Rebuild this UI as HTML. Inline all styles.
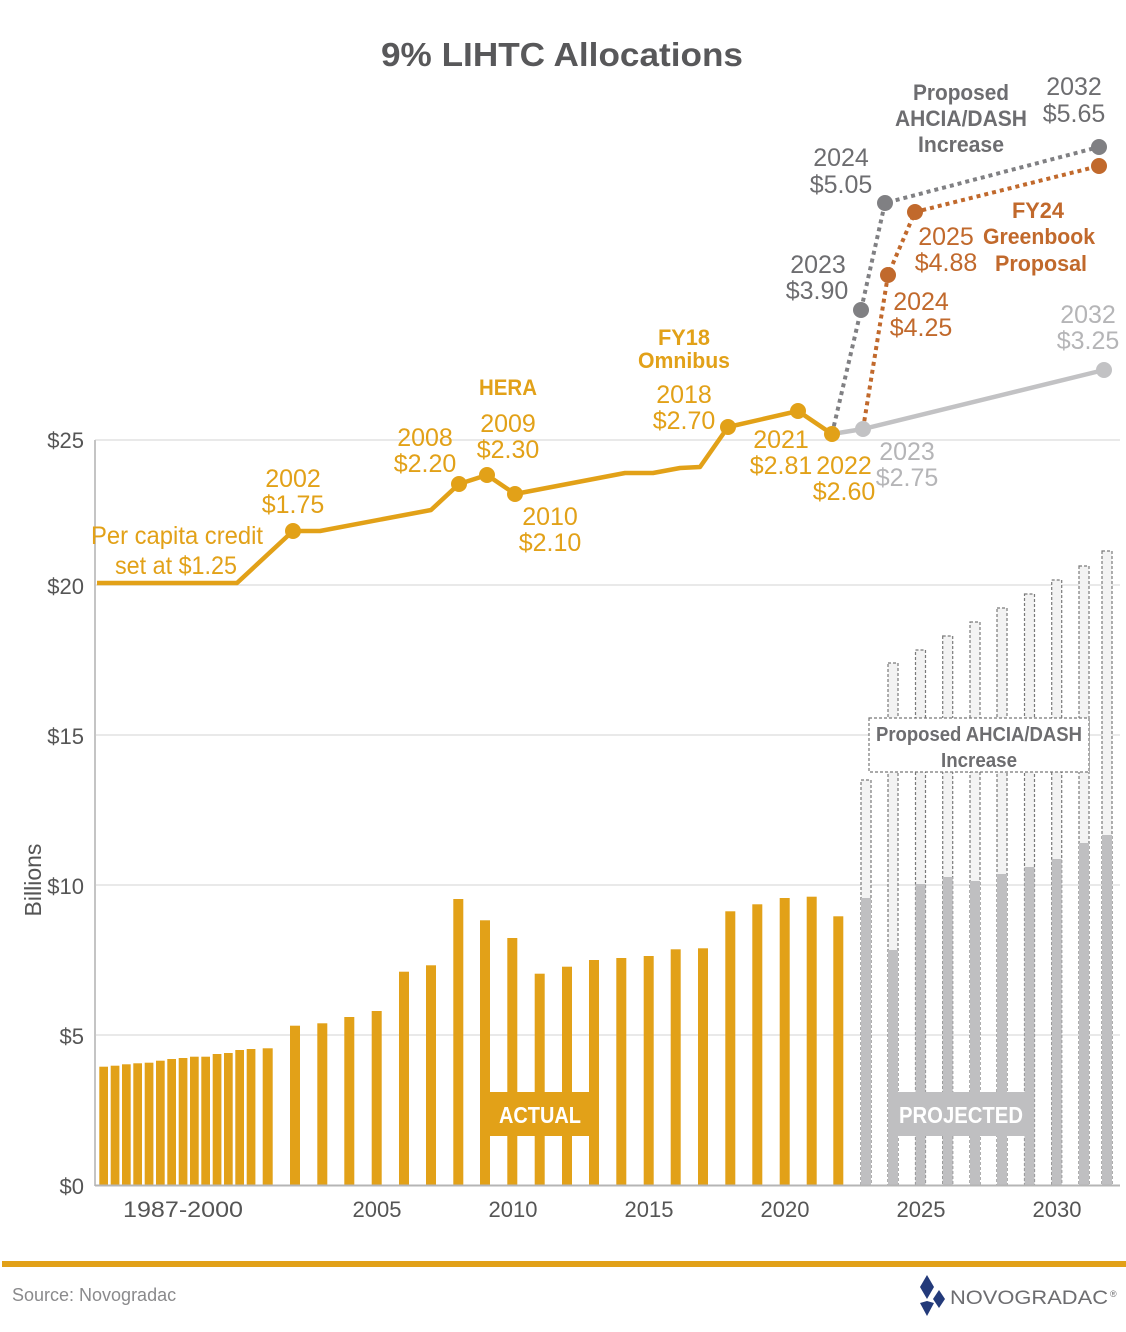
<!DOCTYPE html>
<html><head><meta charset="utf-8"><style>
body{margin:0;background:#fff}
svg{display:block;font-family:"Liberation Sans",sans-serif}
</style></head><body>
<svg width="1126" height="1332" viewBox="0 0 1126 1332" xmlns="http://www.w3.org/2000/svg">
<text x="562" y="66" text-anchor="middle" font-weight="bold" font-size="33" fill="#58585a" textLength="362" lengthAdjust="spacingAndGlyphs">9% LIHTC Allocations</text>
<g stroke="#e2e2e2" stroke-width="1.5">
<line x1="95" y1="440" x2="1120" y2="440"/><line x1="95" y1="585" x2="1120" y2="585"/>
<line x1="95" y1="735" x2="1120" y2="735"/><line x1="95" y1="885" x2="1120" y2="885"/>
<line x1="95" y1="1035" x2="1120" y2="1035"/></g>
<line x1="95" y1="440" x2="95" y2="1186" stroke="#c4c4c4" stroke-width="2"/>
<g font-size="22" fill="#555" text-anchor="end">
<text x="84" y="448">$25</text><text x="84" y="594">$20</text><text x="84" y="744">$15</text>
<text x="84" y="894">$10</text><text x="84" y="1044">$5</text><text x="84" y="1194">$0</text></g>
<text transform="translate(41,880) rotate(-90)" text-anchor="middle" font-size="23" fill="#555">Billions</text>
<g fill="#e2a118">
<rect x="99.3" y="1066.7" width="8.7" height="118.3"/><rect x="110.7" y="1065.7" width="8.7" height="119.3"/>
<rect x="122" y="1064.3" width="8.7" height="120.7"/><rect x="133.3" y="1063.3" width="8.7" height="121.7"/>
<rect x="144.7" y="1062.7" width="8.7" height="122.3"/><rect x="156" y="1060.7" width="8.7" height="124.3"/>
<rect x="167.3" y="1059" width="8.7" height="126"/><rect x="178.7" y="1058" width="8.7" height="127"/>
<rect x="190" y="1056.7" width="8.7" height="128.3"/><rect x="201.3" y="1056.7" width="8.7" height="128.3"/>
<rect x="212.7" y="1054" width="8.7" height="131"/><rect x="224" y="1053" width="8.7" height="132"/>
<rect x="235.3" y="1050" width="8.7" height="135"/><rect x="246.7" y="1049" width="8.7" height="136"/>
<rect x="262.7" y="1048.3" width="10" height="136.7"/><rect x="290" y="1025.7" width="10" height="159.3"/>
<rect x="317.3" y="1023.3" width="10" height="161.7"/><rect x="344.3" y="1017" width="10" height="168"/>
<rect x="371.7" y="1011" width="10" height="174"/><rect x="399" y="971.7" width="10" height="213.3"/>
<rect x="426" y="965.3" width="10" height="219.7"/><rect x="453.3" y="899" width="10" height="286"/>
<rect x="480" y="920.3" width="10" height="264.7"/><rect x="507.3" y="938" width="10" height="247"/>
<rect x="534.7" y="973.7" width="10" height="211.3"/><rect x="562" y="966.7" width="10" height="218.3"/>
<rect x="589" y="960" width="10" height="225"/><rect x="616.3" y="958" width="10" height="227"/>
<rect x="643.7" y="956" width="10" height="229"/><rect x="670.7" y="949.3" width="10" height="235.7"/>
<rect x="698" y="948.3" width="10" height="236.7"/><rect x="725.3" y="911.3" width="10" height="273.7"/>
<rect x="752.3" y="904.3" width="10" height="280.7"/><rect x="779.7" y="898" width="10" height="287"/>
<rect x="806.7" y="896.7" width="10" height="288.3"/><rect x="833.3" y="916.3" width="10" height="268.7"/>
</g>
<g fill="#f3f3f3" stroke="#7a7a7a" stroke-width="1.2" stroke-dasharray="3,2">
<rect x="861" y="780" width="10" height="405"/><rect x="888" y="663" width="10" height="522"/>
<rect x="915.5" y="650" width="10" height="535"/><rect x="942.7" y="636" width="10" height="549"/>
<rect x="970" y="622" width="10" height="563"/><rect x="997" y="608" width="10" height="577"/>
<rect x="1024.5" y="594" width="10" height="591"/><rect x="1051.7" y="580" width="10" height="605"/>
<rect x="1079" y="566" width="10" height="619"/><rect x="1102" y="551" width="10" height="634"/>
</g>
<g fill="#bfbfc1">
<rect x="861" y="898" width="10" height="287"/><rect x="888" y="950" width="10" height="235"/>
<rect x="915.5" y="884" width="10" height="301"/><rect x="942.7" y="877" width="10" height="308"/>
<rect x="970" y="881" width="10" height="304"/><rect x="997" y="874" width="10" height="311"/>
<rect x="1024.5" y="867" width="10" height="318"/><rect x="1051.7" y="859" width="10" height="326"/>
<rect x="1079" y="843" width="10" height="342"/><rect x="1102" y="835" width="10" height="350"/>
</g>
<line x1="95" y1="1185.5" x2="1120" y2="1185.5" stroke="#b5b5b5" stroke-width="2"/>
<rect x="480" y="1092" width="118" height="44" fill="#e2a118"/>
<text x="540" y="1123" text-anchor="middle" font-weight="bold" font-size="23" fill="#fff" textLength="82" lengthAdjust="spacingAndGlyphs">ACTUAL</text>
<rect x="890" y="1092" width="144" height="44" fill="#bfbfc1"/>
<text x="961" y="1123" text-anchor="middle" font-weight="bold" font-size="23" fill="#fff" textLength="124" lengthAdjust="spacingAndGlyphs">PROJECTED</text>
<rect x="869" y="718" width="220" height="54" fill="#fff" stroke="#777" stroke-width="1.2" stroke-dasharray="3,2"/>
<text x="979" y="741" text-anchor="middle" font-weight="bold" font-size="20" fill="#6d6d70" textLength="206" lengthAdjust="spacingAndGlyphs">Proposed AHCIA/DASH</text>
<text x="979" y="767" text-anchor="middle" font-weight="bold" font-size="20" fill="#6d6d70" textLength="76" lengthAdjust="spacingAndGlyphs">Increase</text>
<polyline points="97,583 237,583 293,531 320,531 431,510 459,484 487,475 515,494 625,473 653,473 680,468 700,467 728,427 798,411 832,434" fill="none" stroke="#e2a118" stroke-width="4.5" stroke-linejoin="round"/>
<polyline points="832,434 863,429 1104,370" fill="none" stroke="#c2c2c4" stroke-width="4.5"/>
<polyline points="832,434 861,310 885,203 1099,147" fill="none" stroke="#808083" stroke-width="4" stroke-dasharray="4,4"/>
<polyline points="863,429 888,275 915,212 1099,166" fill="none" stroke="#c1692c" stroke-width="4" stroke-dasharray="4,4"/>
<g fill="#e2a118"><circle cx="293" cy="531" r="8"/><circle cx="459" cy="484" r="8"/><circle cx="487" cy="475" r="8"/><circle cx="515" cy="494" r="8"/><circle cx="728" cy="427" r="8"/><circle cx="798" cy="411" r="8"/><circle cx="832" cy="434" r="8"/></g>
<g fill="#c2c2c4"><circle cx="863" cy="429" r="8"/><circle cx="1104" cy="370" r="8"/></g>
<g fill="#808083"><circle cx="861" cy="310" r="8"/><circle cx="885" cy="203" r="8"/><circle cx="1099" cy="147" r="8"/></g>
<g fill="#c1692c"><circle cx="888" cy="275" r="8"/><circle cx="915" cy="212" r="8"/><circle cx="1099" cy="166" r="8"/></g>
<g font-size="25" fill="#e2a118" text-anchor="middle">
<text x="177" y="544" textLength="172" lengthAdjust="spacingAndGlyphs">Per capita credit</text><text x="176" y="574" textLength="122" lengthAdjust="spacingAndGlyphs">set at $1.25</text>
<text x="293" y="487">2002</text><text x="293" y="513">$1.75</text>
<text x="425" y="446">2008</text><text x="425" y="472">$2.20</text>
<text x="508" y="432">2009</text><text x="508" y="458">$2.30</text>
<text x="550" y="525">2010</text><text x="550" y="551">$2.10</text>
<text x="684" y="403">2018</text><text x="684" y="429">$2.70</text>
<text x="781" y="448">2021</text><text x="781" y="474">$2.81</text>
<text x="844" y="474">2022</text><text x="844" y="500">$2.60</text>
</g>
<g font-size="22" font-weight="bold" fill="#e2a118" text-anchor="middle">
<text x="508" y="395" textLength="58" lengthAdjust="spacingAndGlyphs">HERA</text><text x="684" y="345" textLength="52" lengthAdjust="spacingAndGlyphs">FY18</text><text x="684" y="368" textLength="92" lengthAdjust="spacingAndGlyphs">Omnibus</text></g>
<g font-size="25" fill="#b5b5b7" text-anchor="middle">
<text x="907" y="460">2023</text><text x="907" y="486">$2.75</text>
<text x="1088" y="323">2032</text><text x="1088" y="349">$3.25</text></g>
<g font-size="25" fill="#6d6d70" text-anchor="middle">
<text x="818" y="273">2023</text><text x="817" y="299">$3.90</text>
<text x="841" y="166">2024</text><text x="841" y="193">$5.05</text>
<text x="1074" y="95">2032</text><text x="1074" y="122">$5.65</text></g>
<g font-size="22" font-weight="bold" fill="#6d6d70" text-anchor="middle">
<text x="961" y="100" textLength="96" lengthAdjust="spacingAndGlyphs">Proposed</text><text x="961" y="126" textLength="132" lengthAdjust="spacingAndGlyphs">AHCIA/DASH</text><text x="961" y="152" textLength="86" lengthAdjust="spacingAndGlyphs">Increase</text></g>
<g font-size="25" fill="#c1692c" text-anchor="middle">
<text x="946" y="245">2025</text><text x="946" y="271">$4.88</text>
<text x="921" y="310">2024</text><text x="921" y="336">$4.25</text></g>
<g font-size="22" font-weight="bold" fill="#c1692c" text-anchor="middle">
<text x="1038" y="218" textLength="52" lengthAdjust="spacingAndGlyphs">FY24</text><text x="1039" y="244" textLength="112" lengthAdjust="spacingAndGlyphs">Greenbook</text><text x="1041" y="271" textLength="92" lengthAdjust="spacingAndGlyphs">Proposal</text></g>
<g font-size="22" fill="#555" text-anchor="middle">
<text x="183" y="1217" textLength="120" lengthAdjust="spacingAndGlyphs">1987-2000</text><text x="377" y="1217">2005</text><text x="513" y="1217">2010</text>
<text x="649" y="1217">2015</text><text x="785" y="1217">2020</text><text x="921" y="1217">2025</text><text x="1057" y="1217">2030</text></g>
<rect x="2" y="1261" width="1124" height="6" fill="#e2a118"/>
<text x="12" y="1301" font-size="18" fill="#8a8a8c">Source: Novogradac</text>
<g fill="#233a7a"><polygon points="927,1275 934,1287 927,1299 920,1287"/><polygon points="939,1290 945,1299 939,1308 933,1299"/><polygon points="927,1301 934,1303 927,1316 920,1303"/></g>
<text x="950" y="1304" font-size="19" fill="#6d6d70" textLength="158" lengthAdjust="spacingAndGlyphs">NOVOGRADAC</text>
<text x="1110" y="1297" font-size="9" fill="#6d6d70">®</text>
</svg>
</body></html>
